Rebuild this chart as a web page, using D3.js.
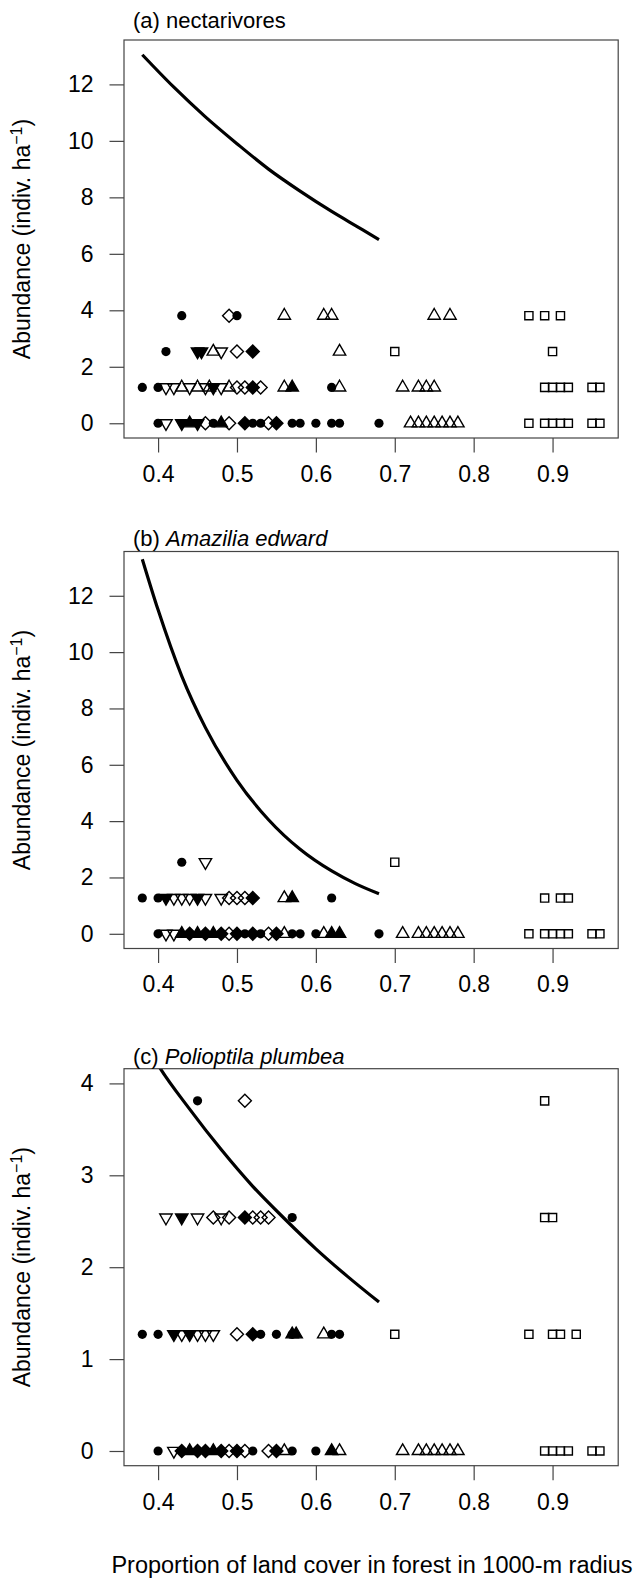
<!DOCTYPE html>
<html>
<head>
<meta charset="utf-8">
<script src="https://cdn.jsdelivr.net/npm/d3@7"></script>
<style>
  body { margin: 0; background: #fff; }
  text { font-family: "Liberation Sans", Arial, sans-serif; fill: #000; }
</style>
</head>
<body>
<div id="chart"></div>
<script>
const width = 636;
const height = 1579;

// x data range (R extends it by 4% on each side)
const xDataRange = [0.38, 0.96];
const xTicks = [0.4, 0.5, 0.6, 0.7, 0.8, 0.9];
const yTicksAB = [0, 2, 4, 6, 8, 10, 12];
const yTicksC = [0, 1, 2, 3, 4];

// shape codes: c filled circle, d open diamond, D filled diamond, t open triangle up,
// T filled triangle up, v open triangle down, V filled triangle down, s open square
const pointsA = [
  [0.43, 3.81, "c"], [0.49, 3.81, "d"], [0.50, 3.81, "c"], [0.56, 3.81, "t"], [0.61, 3.81, "t"],
  [0.62, 3.81, "t"], [0.75, 3.81, "t"], [0.77, 3.81, "t"], [0.87, 3.81, "s"], [0.89, 3.81, "s"], [0.91, 3.81, "s"],

  [0.41, 2.54, "c"], [0.45, 2.54, "V"], [0.455, 2.54, "V"], [0.47, 2.54, "t"], [0.48, 2.54, "v"],
  [0.50, 2.54, "d"], [0.52, 2.54, "D"], [0.63, 2.54, "t"], [0.70, 2.54, "s"], [0.90, 2.54, "s"],

  [0.38, 1.27, "c"], [0.40, 1.27, "c"], [0.41, 1.27, "v"], [0.42, 1.27, "v"], [0.43, 1.27, "t"],
  [0.44, 1.27, "v"], [0.45, 1.27, "t"], [0.46, 1.27, "v"], [0.465, 1.27, "t"], [0.47, 1.27, "V"],
  [0.48, 1.27, "v"], [0.49, 1.27, "t"], [0.50, 1.27, "d"], [0.51, 1.27, "d"], [0.52, 1.27, "D"],
  [0.53, 1.27, "d"], [0.56, 1.27, "t"], [0.57, 1.27, "T"], [0.62, 1.27, "c"], [0.63, 1.27, "t"],
  [0.71, 1.27, "t"], [0.73, 1.27, "t"], [0.74, 1.27, "t"], [0.75, 1.27, "t"],
  [0.89, 1.27, "s"], [0.90, 1.27, "s"], [0.91, 1.27, "s"], [0.92, 1.27, "s"], [0.95, 1.27, "s"], [0.96, 1.27, "s"],

  [0.40, 0, "c"], [0.41, 0, "v"], [0.43, 0, "V"], [0.44, 0, "T"], [0.45, 0, "V"], [0.46, 0, "d"],
  [0.47, 0, "c"], [0.48, 0, "T"], [0.49, 0, "d"], [0.51, 0, "D"], [0.52, 0, "c"], [0.53, 0, "c"],
  [0.54, 0, "d"], [0.55, 0, "D"], [0.57, 0, "c"], [0.58, 0, "c"], [0.60, 0, "c"], [0.62, 0, "c"],
  [0.63, 0, "c"], [0.68, 0, "c"], [0.72, 0, "t"], [0.73, 0, "t"], [0.74, 0, "t"], [0.75, 0, "t"],
  [0.76, 0, "t"], [0.77, 0, "t"], [0.78, 0, "t"], [0.87, 0, "s"], [0.89, 0, "s"], [0.90, 0, "s"],
  [0.91, 0, "s"], [0.92, 0, "s"], [0.95, 0, "s"], [0.96, 0, "s"]
];

const pointsB = [
  [0.43, 2.54, "c"], [0.46, 2.54, "v"], [0.70, 2.54, "s"],

  [0.38, 1.27, "c"], [0.40, 1.27, "c"], [0.41, 1.27, "V"], [0.42, 1.27, "v"], [0.43, 1.27, "v"],
  [0.44, 1.27, "v"], [0.45, 1.27, "V"], [0.46, 1.27, "v"], [0.48, 1.27, "v"], [0.49, 1.27, "d"],
  [0.50, 1.27, "d"], [0.51, 1.27, "d"], [0.52, 1.27, "D"], [0.56, 1.27, "t"], [0.57, 1.27, "T"],
  [0.62, 1.27, "c"], [0.89, 1.27, "s"], [0.91, 1.27, "s"], [0.92, 1.27, "s"],

  [0.40, 0, "c"], [0.41, 0, "v"], [0.42, 0, "v"], [0.43, 0, "T"], [0.44, 0, "D"], [0.45, 0, "T"],
  [0.46, 0, "D"], [0.47, 0, "T"], [0.48, 0, "D"], [0.49, 0, "d"], [0.50, 0, "D"], [0.51, 0, "c"],
  [0.52, 0, "D"], [0.53, 0, "c"], [0.54, 0, "d"], [0.55, 0, "D"], [0.56, 0, "t"], [0.57, 0, "c"],
  [0.58, 0, "c"], [0.60, 0, "c"], [0.61, 0, "t"], [0.62, 0, "T"], [0.63, 0, "T"], [0.68, 0, "c"],
  [0.71, 0, "t"], [0.73, 0, "t"], [0.74, 0, "t"], [0.75, 0, "t"], [0.76, 0, "t"], [0.77, 0, "t"],
  [0.78, 0, "t"], [0.87, 0, "s"], [0.89, 0, "s"], [0.90, 0, "s"], [0.91, 0, "s"], [0.92, 0, "s"],
  [0.95, 0, "s"], [0.96, 0, "s"]
];

const pointsC = [
  [0.45, 3.81, "c"], [0.51, 3.81, "d"], [0.89, 3.81, "s"],

  [0.41, 2.54, "v"], [0.43, 2.54, "V"], [0.45, 2.54, "v"], [0.47, 2.54, "d"], [0.48, 2.54, "v"],
  [0.49, 2.54, "d"], [0.51, 2.54, "D"], [0.52, 2.54, "d"], [0.53, 2.54, "d"], [0.54, 2.54, "d"],
  [0.57, 2.54, "c"], [0.89, 2.54, "s"], [0.90, 2.54, "s"],

  [0.38, 1.27, "c"], [0.40, 1.27, "c"], [0.42, 1.27, "V"], [0.43, 1.27, "v"], [0.44, 1.27, "V"],
  [0.45, 1.27, "v"], [0.46, 1.27, "v"], [0.47, 1.27, "v"], [0.50, 1.27, "d"], [0.52, 1.27, "D"],
  [0.53, 1.27, "c"], [0.55, 1.27, "c"], [0.57, 1.27, "c"], [0.57, 1.27, "T"], [0.575, 1.27, "T"],
  [0.61, 1.27, "t"], [0.62, 1.27, "c"], [0.63, 1.27, "c"], [0.70, 1.27, "s"], [0.87, 1.27, "s"],
  [0.90, 1.27, "s"], [0.91, 1.27, "s"], [0.93, 1.27, "s"],

  [0.40, 0, "c"], [0.42, 0, "v"], [0.43, 0, "D"], [0.44, 0, "T"], [0.45, 0, "D"], [0.46, 0, "D"],
  [0.47, 0, "T"], [0.48, 0, "D"], [0.49, 0, "d"], [0.50, 0, "D"], [0.51, 0, "d"], [0.52, 0, "c"],
  [0.54, 0, "d"], [0.55, 0, "D"], [0.56, 0, "t"], [0.57, 0, "c"], [0.60, 0, "c"], [0.62, 0, "T"],
  [0.63, 0, "t"], [0.71, 0, "t"], [0.73, 0, "t"], [0.74, 0, "t"], [0.75, 0, "t"], [0.76, 0, "t"],
  [0.77, 0, "t"], [0.78, 0, "t"], [0.89, 0, "s"], [0.90, 0, "s"], [0.91, 0, "s"], [0.92, 0, "s"],
  [0.95, 0, "s"], [0.96, 0, "s"]
];

// fitted curves
const curveAx = [0.38, 0.42, 0.46, 0.50, 0.54, 0.58, 0.62, 0.66, 0.68];
const curveAy = [13.05, 11.9, 10.85, 9.9, 9.0, 8.22, 7.5, 6.84, 6.5];
const curveBx = [0.38, 0.40, 0.43, 0.46, 0.50, 0.54, 0.58, 0.62, 0.65, 0.68];
const curveBy = [13.3, 11.5, 9.15, 7.32, 5.45, 4.05, 3.0, 2.23, 1.78, 1.42];
const curveCx = [0.38, 0.40, 0.44, 0.48, 0.52, 0.56, 0.60, 0.64, 0.68];
const curveCy = [4.5, 4.2, 3.72, 3.28, 2.88, 2.53, 2.2, 1.9, 1.62];

const panels = [
  { title: ["(a) ", "nectarivores", false], points: pointsA, cx: curveAx, cy: curveAy,
    yData: [0, 13.05], yTicks: yTicksAB, top: 40, bottom: 438, titleY: 28 },
  { title: ["(b) ", "Amazilia edward", true], points: pointsB, cx: curveBx, cy: curveBy,
    yData: [0, 13.05], yTicks: yTicksAB, top: 551.5, bottom: 948.5, titleY: 546 },
  { title: ["(c) ", "Polioptila plumbea", true], points: pointsC, cx: curveCx, cy: curveCy,
    yData: [0, 4], yTicks: yTicksC, top: 1068.7, bottom: 1465.7, titleY: 1063.5 }
];

const boxLeft = 124;
const boxRight = 618.2;
const R = 4.6;

const svg = d3.select("#chart")
  .append("svg")
  .attr("width", width)
  .attr("height", height);

const ext = (r) => [r[0] - 0.04 * (r[1] - r[0]), r[1] + 0.04 * (r[1] - r[0])];

const x = d3.scaleLinear()
  .domain(ext(xDataRange))
  .range([boxLeft, boxRight]);

function shapePath(code) {
  const s = code.toLowerCase();
  if (s === "s") {
    const h = 0.886 * R;
    return `M${-h},${-h}H${h}V${h}H${-h}Z`;
  }
  if (s === "d") {
    const h = 1.414 * R;
    return `M0,${-h}L${h},0L0,${h}L${-h},0Z`;
  }
  if (s === "t" || s === "v") {
    const r = 1.555 * R, xc = 1.3468 * R, yc = 0.7776 * R;
    const k = s === "t" ? 1 : -1;
    return `M0,${-k * r}L${xc},${k * yc}L${-xc},${k * yc}Z`;
  }
  return null;
}

panels.forEach((p, i) => {
  const y = d3.scaleLinear()
    .domain(ext(p.yData))
    .range([p.bottom, p.top]);

  const g = svg.append("g");
  const clipId = "clip" + i;
  g.append("clipPath").attr("id", clipId)
    .append("rect")
    .attr("x", boxLeft).attr("y", p.top)
    .attr("width", boxRight - boxLeft).attr("height", p.bottom - p.top);

  // points
  const pts = g.append("g");
  p.points.forEach(d => {
    const code = d[2];
    const filled = code !== code.toLowerCase() || code === "c";
    if (code === "c") {
      pts.append("circle")
        .attr("cx", x(d[0])).attr("cy", y(d[1])).attr("r", R)
        .attr("fill", "#000");
    } else {
      pts.append("path")
        .attr("d", shapePath(code))
        .attr("transform", `translate(${x(d[0])},${y(d[1])})`)
        .attr("fill", filled ? "#000" : "none")
        .attr("stroke", "#000")
        .attr("stroke-width", 1.4);
    }
  });

  // fitted curve
  const line = d3.line()
    .x(d => x(d[0]))
    .y(d => y(d[1]))
    .curve(d3.curveMonotoneX);
  g.append("path")
    .datum(d3.zip(p.cx, p.cy))
    .attr("clip-path", `url(#${clipId})`)
    .attr("d", line)
    .attr("fill", "none")
    .attr("stroke", "#000")
    .attr("stroke-width", 3.2);

  // box
  g.append("rect")
    .attr("x", boxLeft).attr("y", p.top)
    .attr("width", boxRight - boxLeft).attr("height", p.bottom - p.top)
    .attr("fill", "none")
    .attr("stroke", "#444")
    .attr("stroke-width", 1.2);

  // axes
  const xAxis = g.append("g")
    .attr("transform", `translate(0,${p.bottom})`)
    .call(d3.axisBottom(x).tickValues(xTicks).tickSize(14.5).tickSizeOuter(0).tickPadding(13)
      .tickFormat(d3.format(".1f")));
  const yAxis = g.append("g")
    .attr("transform", `translate(${boxLeft},0)`)
    .call(d3.axisLeft(y).tickValues(p.yTicks).tickSize(14.5).tickSizeOuter(0).tickPadding(16)
      .tickFormat(d3.format("d")));
  [xAxis, yAxis].forEach(a => {
    a.select(".domain").remove();
    a.selectAll("line").attr("stroke", "#444").attr("stroke-width", 1.2);
    a.selectAll("text").style("font-size", "23px").attr("fill", "#000");
  });

  // panel title
  const t = g.append("text")
    .attr("x", 133)
    .attr("y", p.titleY)
    .style("font-size", "22px");
  t.append("tspan").text(p.title[0]);
  t.append("tspan").text(p.title[1]).style("font-style", p.title[2] ? "italic" : "normal");

  // y axis title
  const yt = g.append("text")
    .attr("transform", `translate(30,${(p.top + p.bottom) / 2}) rotate(-90)`)
    .attr("text-anchor", "middle")
    .style("font-size", "23px");
  yt.append("tspan").text("Abundance (indiv. ha");
  yt.append("tspan").text("\u22121").attr("dy", -8).style("font-size", "16px");
  yt.append("tspan").text(")").attr("dy", 8);
});

svg.append("text")
  .attr("x", 372)
  .attr("y", 1573)
  .attr("text-anchor", "middle")
  .style("font-size", "23.5px")
  .text("Proportion of land cover in forest in 1000-m radius");
</script>
</body>
</html>
